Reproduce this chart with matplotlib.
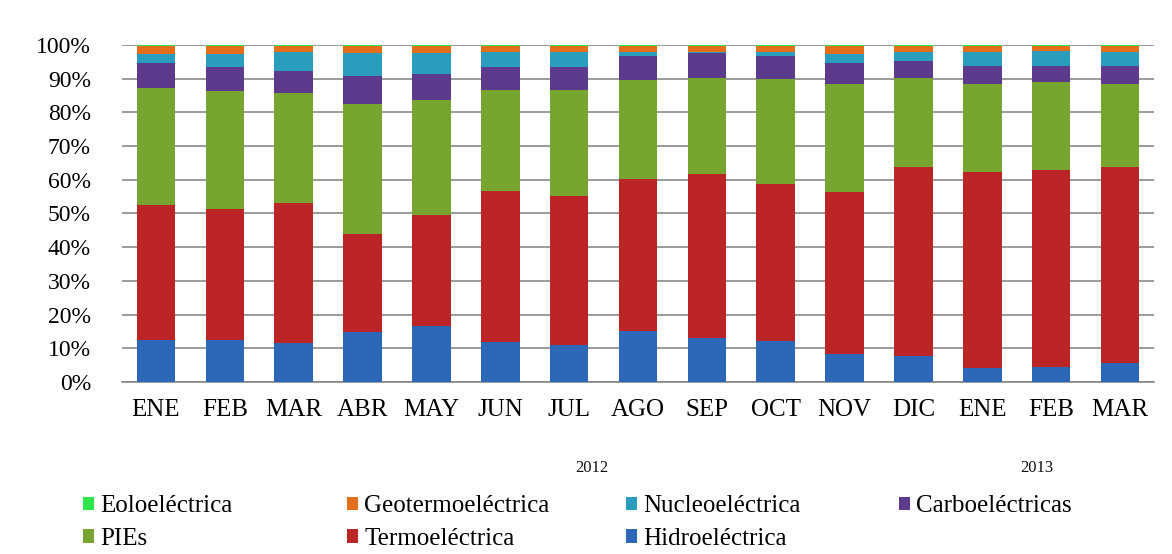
import numpy as np
import matplotlib.pyplot as plt
from matplotlib.ticker import MultipleLocator, PercentFormatter

plt.rcParams['font.family'] = ['Liberation Serif', 'DejaVu Serif']

meses = ["ENE", "FEB", "MAR", "ABR", "MAY", "JUN", "JUL", "AGO",
         "SEP", "OCT", "NOV", "DIC", "ENE", "FEB", "MAR"]

# participación por tecnología (%), ene-2012 a mar-2013
hidro = [12.4, 12.4, 11.5, 14.9, 16.7, 11.9, 10.9, 15.2, 12.9, 12.1, 8.2, 7.7, 4.1, 4.5, 5.5]
termo = [40.2, 39.0, 41.6, 29.1, 32.7, 44.7, 44.3, 45.0, 48.7, 46.7, 48.3, 56.1, 58.2, 58.5, 58.3]
pies = [34.7, 35.0, 32.7, 38.6, 34.3, 30.0, 31.4, 29.3, 28.7, 31.0, 32.0, 26.5, 26.2, 26.1, 24.5]
carbo = [7.2, 6.9, 6.5, 8.2, 7.6, 6.9, 6.9, 7.2, 7.4, 6.9, 6.2, 4.9, 5.3, 4.7, 5.5]
nucleo = [2.8, 4.0, 5.5, 6.7, 6.3, 4.3, 4.3, 1.3, 0.3, 1.3, 2.7, 2.8, 4.0, 4.3, 4.0]
geo = [2.3, 2.3, 1.8, 2.1, 2.0, 1.8, 1.8, 1.6, 1.6, 1.6, 2.2, 1.6, 1.8, 1.5, 1.8]
eolo = [0.4, 0.4, 0.4, 0.4, 0.4, 0.4, 0.4, 0.4, 0.4, 0.4, 0.4, 0.4, 0.4, 0.4, 0.4]

anios = ["2012", "2013"]

series = [
    ("Hidroeléctrica", hidro, "#2d68b8"),
    ("Termoeléctrica", termo, "#bb2528"),
    ("PIEs", pies, "#78a530"),
    ("Carboeléctricas", carbo, "#5c3a8c"),
    ("Nucleoeléctrica", nucleo, "#2a9cbc"),
    ("Geotermoeléctrica", geo, "#e36f1c"),
    ("Eoloeléctrica", eolo, "#2ee64a"),
]

datos = np.array([s[1] for s in series], dtype=float)
datos = datos / datos.sum(axis=0) * 100

fig = plt.figure(figsize=(11.72, 5.54), dpi=100)
ax = fig.add_axes([0.1037, 0.3105, 0.8813, 0.6085])

x = np.arange(len(meses))
base = np.zeros(len(meses))
barras = {}
for (nombre, _, color), vals in zip(series, datos):
    barras[nombre] = ax.bar(x, vals, bottom=base, width=0.56, color=color,
                            linewidth=0, zorder=3, label=nombre)
    base += vals

ax.set_xlim(-0.5, len(meses) - 0.5)
ax.set_ylim(0, 100)
ax.yaxis.set_major_locator(MultipleLocator(10))
ax.yaxis.set_major_formatter(PercentFormatter(decimals=0))
ax.grid(axis='y', color='#808080', linewidth=1.1, zorder=0)
ax.set_axisbelow(True)
for lado in ['top', 'right', 'left']:
    ax.spines[lado].set_visible(False)
ax.spines['bottom'].set_color('#808080')
ax.spines['bottom'].set_linewidth(1.1)
ax.set_xticks(x)
ax.set_xticklabels(meses)
ax.tick_params(axis='x', length=0, pad=12, labelsize=18, colors='#000000')
ax.tick_params(axis='y', length=0, pad=22, labelsize=17, colors='#000000')

# años bajo los meses
for xa, anio in zip([6.33, 12.79], anios):
    ax.text(xa, -0.255, anio, transform=ax.get_xaxis_transform(),
            ha='center', va='center', fontsize=12, color='#111111')

# leyenda en cuatro columnas
columnas = [
    (0.0705, ["Eoloeléctrica", "PIEs"]),
    (0.2960, ["Geotermoeléctrica", "Termoeléctrica"]),
    (0.5340, ["Nucleoeléctrica", "Hidroeléctrica"]),
    (0.7670, ["Carboeléctricas"]),
]
for xc, nombres in columnas:
    fig.legend([barras[n] for n in nombres], nombres, loc='upper left',
               bbox_to_anchor=(xc, 0.106), frameon=False, borderpad=0,
               borderaxespad=0, fontsize=18, handlelength=0.45,
               handleheight=0.45, handletextpad=0.25, labelspacing=0.42)

fig.savefig("out.png", dpi=100, facecolor='white')
